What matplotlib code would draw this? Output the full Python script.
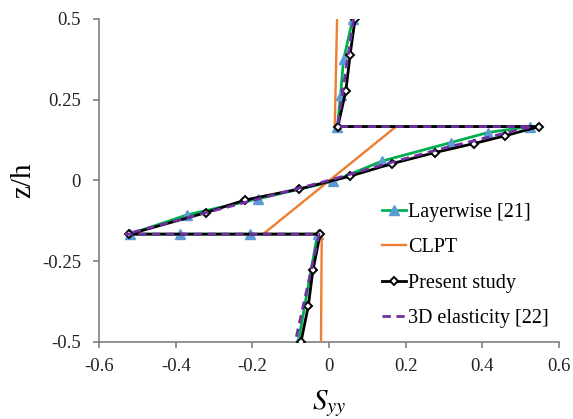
import matplotlib
matplotlib.use("Agg")
import matplotlib.pyplot as plt

plt.rcParams['font.family'] = ['Liberation Serif', 'DejaVu Serif']
plt.rcParams['mathtext.fontset'] = 'stix'
plt.rcParams['axes.unicode_minus'] = False

# Layerwise [21]
lw_z = [0.5, 0.375, 0.264, 0.1667, 0.1667, 0.148, 0.117, 0.06, -0.003, -0.057, -0.107, -0.1667, -0.1667, -0.1667, -0.1667, -0.5]
lw_s = [0.062, 0.038, 0.030, 0.022, 0.524, 0.414, 0.318, 0.139, 0.01, -0.184, -0.37, -0.52, -0.389, -0.206, -0.03, -0.08]
# CLPT
clpt_z = [0.5, 0.1667, 0.1667, -0.1667, -0.1667, -0.5]
clpt_s = [0.021, 0.015, 0.175, -0.172, -0.019, -0.021]
# Present study
ps_z = [0.5, 0.389, 0.278, 0.1667, 0.1667, 0.138, 0.114, 0.086, 0.052, 0.013, -0.027, -0.061, -0.1, -0.1667, -0.1667, -0.278, -0.389, -0.5]
ps_s = [0.068, 0.055, 0.044, 0.023, 0.548, 0.459, 0.378, 0.276, 0.165, 0.055, -0.078, -0.219, -0.321, -0.521, -0.023, -0.042, -0.054, -0.073]
# 3D elasticity [22]
el_z = [0.5, 0.1667, 0.1667, 0.1, 0.05, 0.0, -0.05, -0.1, -0.1667, -0.1667, -0.5]
el_s = [0.064, 0.022, 0.53, 0.30, 0.145, 0.0, -0.16, -0.32, -0.53, -0.026, -0.088]

xticks = [-0.6, -0.4, -0.2, 0, 0.2, 0.4, 0.6]
xticklabels = ['-0.6', '-0.4', '-0.2', '0', '0.2', '0.4', '0.6']
yticks = [0.5, 0.25, 0, -0.25, -0.5]
yticklabels = ['0.5', '0.25', '0', '-0.25', '-0.5']

fig = plt.figure(figsize=(5.73, 4.19), dpi=100)
ax = fig.add_axes([0.1728, 0.1845, 0.8028, 0.7702])

ax.plot(lw_s, lw_z, color='#00b050', lw=2, marker='^', ms=6.5, mfc='#5b9bd5', mec='#5b9bd5', label='Layerwise [21]', zorder=2)
ax.plot(clpt_s, clpt_z, color='#ed7d31', lw=1.7, label='CLPT', zorder=3)
ax.plot(ps_s, ps_z, color='black', lw=2, marker='D', ms=4.5, mfc='white', mec='black', mew=1.4, label='Present study', zorder=4)
ax.plot(el_s, el_z, color='#7030a0', lw=2, ls=(0, (3, 2)), label='3D elasticity [22]', zorder=5)

ax.set_xlim(-0.6, 0.6); ax.set_ylim(-0.5, 0.5)
ax.set_xticks(xticks); ax.set_xticklabels(xticklabels)
ax.set_yticks(yticks); ax.set_yticklabels(yticklabels)
for s in ['top', 'right']:
    ax.spines[s].set_visible(False)
for s in ['left', 'bottom']:
    ax.spines[s].set_color('#7f7f7f'); ax.spines[s].set_linewidth(1.2)
ax.tick_params(direction='out', length=4, width=1.2, color='#7f7f7f', labelsize=13.5, labelcolor='#222222')
ax.tick_params(axis='x', pad=8)
ax.tick_params(axis='y', pad=9)
ax.set_xlabel('$S_{yy}$', fontsize=21, labelpad=9)
ax.set_ylabel('z/h', fontsize=21, labelpad=4)

ax.legend(loc='lower right', bbox_to_anchor=(1.017, -0.015), frameon=False, fontsize=14.5, handlelength=1.2, handletextpad=0.1, labelspacing=0.82)

fig.savefig('out.png', dpi=100)
